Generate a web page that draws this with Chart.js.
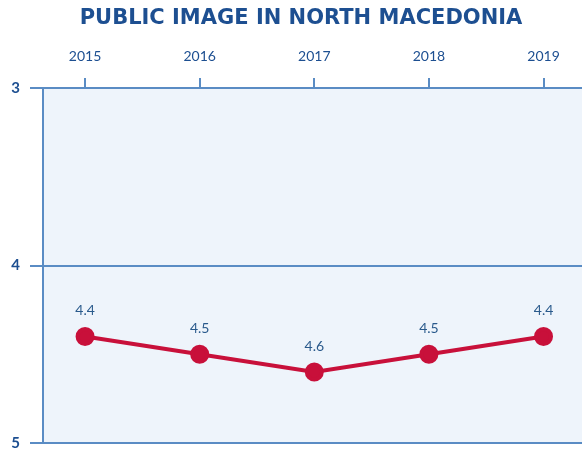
<!DOCTYPE html>
<html>
<head>
<meta charset="utf-8">
<script src="https://cdn.jsdelivr.net/npm/chart.js@4"></script>
<style>
  html,body{margin:0;padding:0;background:#fff;overflow:hidden;}
  #wrap{width:582px;height:452px;overflow:hidden;}
</style>
</head>
<body>
<div id="wrap"><canvas id="c" width="594" height="462"></canvas></div>
<script>
// données (échelle inversée : 3 en haut, 5 en bas)
const years = [2015, 2016, 2017, 2018, 2019];
const scores = [4.4, 4.5, 4.6, 4.5, 4.4];
const yTicks = [3, 4, 5];

const BLUE_DARK = "#1d4f91";
const BLUE_AXIS = "#5a8cc4";
const RED = "#c8103a";

// fond bleu pâle de la zone de tracé
const bgPlugin = {
  id: "plotBg",
  beforeDraw(chart){
    const a = chart.chartArea, ctx = chart.ctx;
    ctx.save();
    ctx.fillStyle = "#eef4fb";
    ctx.fillRect(a.left, a.top, a.right - a.left, a.bottom - a.top);
    ctx.restore();
  }
};

// étiquettes de valeur au-dessus des points
const labelPlugin = {
  id: "valLabels",
  afterDatasetsDraw(chart){
    const ctx = chart.ctx;
    const meta = chart.getDatasetMeta(0);
    ctx.save();
    ctx.font = "14px Lato, 'DejaVu Sans', sans-serif";
    ctx.fillStyle = "#2a5a8c";
    ctx.textAlign = "center";
    ctx.textBaseline = "middle";
    meta.data.forEach((pt, i)=>{
      ctx.fillText(scores[i].toFixed(1), pt.x, pt.y - 26);
    });
    ctx.restore();
  }
};

new Chart(document.getElementById("c"), {
  type: "line",
  data: {
    datasets: [{
      data: years.map((y,i)=>({x:y, y:scores[i]})),
      borderColor: RED,
      backgroundColor: RED,
      borderWidth: 4,
      pointRadius: 7.5,
      pointBackgroundColor: RED,
      pointBorderColor: RED,
      tension: 0,
      clip: false,
    }]
  },
  options: {
    responsive: false,
    animation: false,
    layout: { padding: { left: 8, right: 0, top: 4, bottom: 0 } },
    plugins: {
      legend: { display: false },
      tooltip: { enabled: false },
      title: {
        display: true,
        text: "PUBLIC IMAGE IN NORTH MACEDONIA",
        color: BLUE_DARK,
        font: { family: "'DejaVu Sans', sans-serif", size: 21, weight: "bold" },
        padding: { top: 1.5, bottom: 4 },
      },
    },
    scales: {
      x: {
        type: "linear",
        position: "top",
        min: 2014.633,
        max: 2019.34,
        afterBuildTicks(scale){ scale.ticks = years.map(v=>({value:v})); },
        ticks: {
          color: BLUE_DARK,
          font: { family: "Lato, 'Open Sans', sans-serif", size: 14 },
          padding: 13.3,
          callback: v => String(v),
          maxRotation: 0,
        },
        grid: { drawOnChartArea: false, color: BLUE_AXIS, lineWidth: 2, tickLength: 10 },
        border: { color: BLUE_AXIS, width: 2 },
      },
      y: {
        reverse: true,
        min: 3,
        max: 5,
        afterBuildTicks(scale){ scale.ticks = yTicks.map(v=>({value:v})); },
        afterFit(scale){ scale.width = 35; },
        ticks: {
          color: BLUE_DARK,
          font: { family: "Lato, 'Open Sans', sans-serif", size: 15, weight: "bold" },
          padding: 10,
        },
        grid: { color: BLUE_AXIS, lineWidth: 2, tickLength: 13 },
        border: { color: BLUE_AXIS, width: 2 },
      },
    },
  },
  plugins: [bgPlugin, labelPlugin],
});
</script>
</body>
</html>
